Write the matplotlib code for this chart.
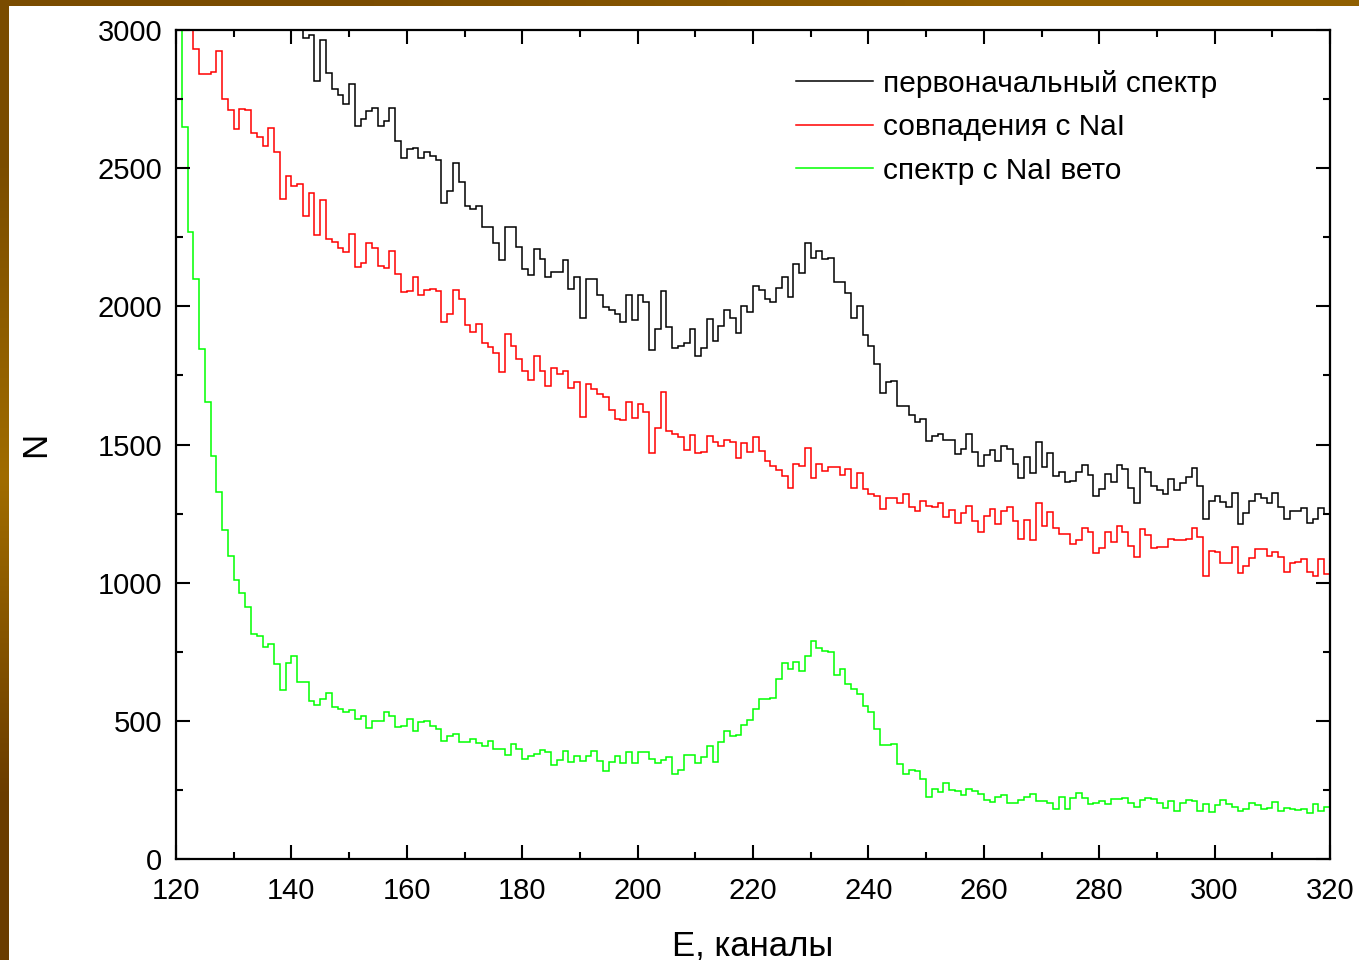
import numpy as np
import matplotlib
matplotlib.use("Agg")
import matplotlib.pyplot as plt
from matplotlib.lines import Line2D
from matplotlib.ticker import MultipleLocator

plt.rcParams["font.family"] = ["Liberation Sans", "DejaVu Sans"]

# Spectra, one value per channel, channels 120..320
first_channel = 120

# first row values (120-141) sit above the 3000 clip and are not visible
black_counts = [
    3700, 3650, 3600, 3550, 3500, 3450, 3420, 3380, 3350, 3320,
    3290, 3260, 3230, 3200, 3180, 3160, 3140, 3120, 3100, 3080,
    3060, 3040, 2970, 2982, 2816, 2964, 2846, 2786, 2765, 2733,
    2804, 2653, 2677, 2708, 2719, 2653, 2671, 2719, 2598, 2538,
    2568, 2574, 2538, 2560, 2544, 2530, 2373, 2419, 2518, 2451,
    2364, 2351, 2364, 2288, 2288, 2228, 2168, 2286, 2286, 2214,
    2134, 2114, 2208, 2171, 2105, 2123, 2123, 2168, 2063, 2105,
    1959, 2099, 2099, 2042, 1999, 1985, 1973, 1943, 2042, 1951,
    2042, 2015, 1843, 1918, 2056, 1924, 1851, 1858, 1867, 1917,
    1821, 1849, 1954, 1873, 1929, 1987, 1957, 1905, 2001, 1981,
    2075, 2059, 2025, 2015, 2065, 2105, 2035, 2152, 2119, 2230,
    2176, 2201, 2170, 2176, 2089, 2089, 2047, 1959, 2001, 1896,
    1858, 1791, 1688, 1725, 1730, 1640, 1640, 1605, 1583, 1592,
    1513, 1532, 1537, 1516, 1516, 1466, 1484, 1537, 1472, 1424,
    1462, 1480, 1442, 1495, 1484, 1428, 1378, 1454, 1396, 1508,
    1420, 1471, 1387, 1400, 1366, 1369, 1400, 1425, 1390, 1315,
    1339, 1392, 1366, 1425, 1411, 1344, 1287, 1416, 1400, 1350,
    1335, 1321, 1374, 1337, 1359, 1381, 1416, 1350, 1229, 1296,
    1314, 1293, 1275, 1326, 1214, 1253, 1297, 1320, 1308, 1287,
    1326, 1275, 1230, 1260, 1259, 1272, 1216, 1230, 1269, 1248,
    1240,
]

red_counts = [
    3150, 3100, 3050, 2930, 2841, 2841, 2847, 2924, 2751, 2711,
    2641, 2715, 2711, 2626, 2614, 2580, 2644, 2560, 2389, 2470,
    2437, 2443, 2327, 2409, 2258, 2385, 2242, 2234, 2212, 2195,
    2261, 2141, 2156, 2228, 2212, 2146, 2138, 2200, 2117, 2051,
    2056, 2105, 2041, 2059, 2062, 2057, 1944, 1974, 2059, 2025,
    1934, 1908, 1935, 1869, 1854, 1830, 1764, 1900, 1858, 1808,
    1767, 1733, 1821, 1767, 1713, 1776, 1755, 1767, 1703, 1725,
    1601, 1718, 1701, 1682, 1671, 1625, 1593, 1589, 1652, 1595,
    1647, 1617, 1471, 1559, 1691, 1550, 1538, 1528, 1480, 1536,
    1468, 1472, 1532, 1510, 1496, 1516, 1510, 1450, 1504, 1472,
    1526, 1476, 1442, 1424, 1406, 1386, 1342, 1429, 1424, 1487,
    1380, 1429, 1405, 1420, 1417, 1390, 1411, 1342, 1396, 1338,
    1321, 1314, 1266, 1305, 1305, 1288, 1320, 1273, 1258, 1294,
    1279, 1273, 1288, 1236, 1264, 1216, 1252, 1279, 1222, 1183,
    1243, 1267, 1213, 1260, 1275, 1222, 1157, 1225, 1155, 1288,
    1206, 1257, 1199, 1175, 1175, 1140, 1154, 1197, 1182, 1109,
    1124, 1182, 1148, 1206, 1182, 1134, 1092, 1196, 1171, 1124,
    1128, 1128, 1158, 1154, 1154, 1158, 1199, 1164, 1025, 1116,
    1112, 1070, 1070, 1128, 1036, 1060, 1088, 1121, 1121, 1098,
    1110, 1092, 1040, 1070, 1074, 1086, 1040, 1024, 1086, 1031,
    1002,
]

green_counts = [
    3400, 2648, 2270, 2098, 1846, 1655, 1459, 1327, 1190, 1098,
    1011, 961, 911, 816, 806, 768, 777, 707, 610, 711,
    734, 642, 642, 570, 557, 580, 600, 550, 543, 531,
    541, 505, 518, 475, 501, 501, 531, 518, 478, 482,
    505, 465, 495, 501, 482, 472, 427, 445, 452, 423,
    425, 435, 421, 410, 426, 398, 398, 376, 417, 397,
    361, 373, 380, 396, 389, 340, 358, 392, 351, 372,
    353, 372, 392, 356, 319, 351, 372, 348, 387, 348,
    389, 389, 363, 349, 357, 368, 307, 323, 378, 378,
    348, 370, 410, 351, 423, 465, 444, 448, 484, 502,
    544, 578, 578, 582, 653, 711, 687, 714, 682, 733,
    789, 765, 753, 748, 666, 689, 632, 615, 597, 553,
    531, 469, 414, 414, 417, 343, 308, 322, 319, 288,
    226, 255, 242, 276, 249, 245, 233, 252, 245, 236,
    215, 206, 224, 231, 202, 202, 215, 224, 236, 210,
    209, 204, 181, 223, 182, 222, 238, 222, 198, 201,
    209, 198, 216, 216, 222, 203, 188, 215, 222, 218,
    203, 186, 209, 174, 201, 212, 209, 175, 199, 171,
    197, 212, 200, 189, 172, 180, 201, 194, 181, 185,
    205, 175, 185, 181, 178, 181, 168, 198, 175, 189,
    170,
]

labels = ["первоначальный спектр", "совпадения с NaI", "спектр с NaI вето"]
colors = ["#000000", "#ff0000", "#00ff00"]


def main():
    fig = plt.figure(figsize=(13.59, 9.6), dpi=100)
    fig.patch.set_facecolor("white")

    # brown slide border (left and top strips)
    grad = np.array([[0.0], [0.5], [1.0]])
    cm = matplotlib.colors.LinearSegmentedColormap.from_list(
        "slide", ["#7a4c00", "#a06c00", "#6a3c00"])
    left_strip = fig.add_axes([0, 0, 9 / 1359, 1])
    left_strip.imshow(grad, aspect="auto", cmap=cm, interpolation="bilinear")
    left_strip.set_axis_off()
    top_strip = fig.add_axes([0, 1 - 6 / 960, 1, 6 / 960])
    top_strip.imshow(np.array([[0.0, 0.3]]), aspect="auto", cmap=cm,
                     interpolation="bilinear", vmin=0, vmax=1)
    top_strip.set_axis_off()

    ax = fig.add_axes([176 / 1359, 1 - 859 / 960, 1154 / 1359, 829 / 960])

    series = [black_counts, red_counts, green_counts]
    for vals, c in zip(series, colors):
        edges = np.arange(first_channel, first_channel + len(vals) + 1)
        ax.stairs(vals, edges, color=c, linewidth=1.1, baseline=None)

    ax.set_xlim(120, 320)
    ax.set_ylim(0, 3000)
    ax.xaxis.set_major_locator(MultipleLocator(20))
    ax.xaxis.set_minor_locator(MultipleLocator(10))
    ax.yaxis.set_major_locator(MultipleLocator(500))
    ax.yaxis.set_minor_locator(MultipleLocator(250))
    ax.tick_params(which="both", direction="in", top=True, right=True,
                   width=1.5, labelsize=21)
    ax.tick_params(which="major", length=10)
    ax.tick_params(which="minor", length=5)
    ax.tick_params(axis="x", pad=13)
    ax.tick_params(axis="y", pad=10)
    for sp in ax.spines.values():
        sp.set_linewidth(1.6)

    ax.set_xlabel("E, каналы", fontsize=25)
    ax.xaxis.set_label_coords(0.5, -0.105)
    ax.xaxis.label.set_verticalalignment("center")
    ax.set_ylabel("N", fontsize=25)
    ax.yaxis.set_label_coords(-0.122, 0.5)
    ax.yaxis.label.set_verticalalignment("center")

    handles = [Line2D([], [], color=c, linewidth=1.1) for c in colors]
    ax.legend(handles, labels, loc="upper left", bbox_to_anchor=(0.537, 0.952),
              frameon=False, fontsize=21.5, handlelength=2.58, handletextpad=0.33,
              labelspacing=0.52, borderaxespad=0, borderpad=0)

    fig.savefig("out.png", dpi=100)


if __name__ == "__main__":
    main()
